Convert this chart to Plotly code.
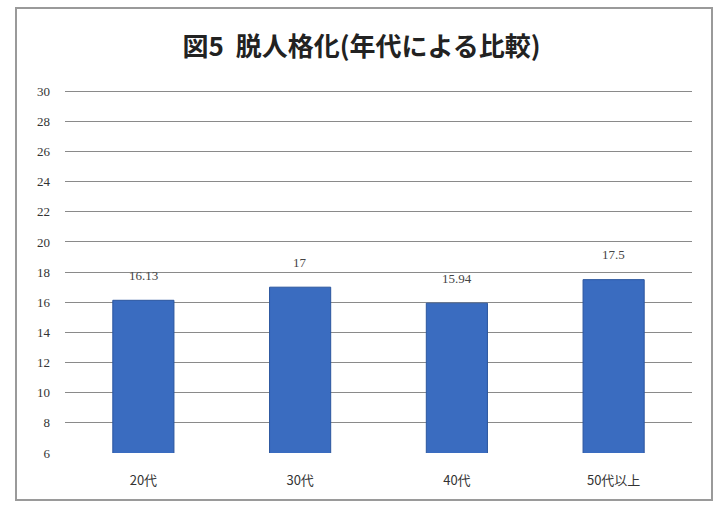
import plotly.graph_objects as go

categories = ["20代", "30代", "40代", "50代以上"]
values = [16.13, 17, 15.94, 17.5]
value_labels = ["16.13", "17", "15.94", "17.5"]
tick_vals = [6, 8, 10, 12, 14, 16, 18, 20, 22, 24, 26, 28, 30]

W, H = 723, 507
L, R, T, B = 65, 31, 90, 54
pw, ph = W - L - R, H - T - B

fig = go.Figure()
fig.add_trace(go.Bar(
    x=categories, y=values,
    marker=dict(color="#3A6CC0", line=dict(color="#2A559E", width=1)),
    width=0.39,
))

for c, v, t in zip(categories, values, value_labels):
    fig.add_annotation(x=c, y=v, text=t, showarrow=False, yshift=25,
                       font=dict(size=13, color="#444444", family="Liberation Serif"))

def px_x(p):
    return (p - L) / pw

def px_y(p):
    return (H - B - p) / ph

fig.update_layout(
    width=W, height=H,
    margin=dict(l=L, r=R, t=T, b=B),
    paper_bgcolor="white", plot_bgcolor="white",
    showlegend=False,
    title=dict(text="<b>図5  脱人格化(年代による比較)</b>", x=0.5, xanchor="center",
               y=1 - 47 / H, yanchor="middle",
               font=dict(size=26, color="#222222", family="Noto Sans CJK JP")),
    xaxis=dict(showline=False, ticks="", ticklabelstandoff=18,
               tickfont=dict(size=13, color="#333333", family="Noto Sans CJK JP")),
    yaxis=dict(range=[6, 30.08], tickvals=tick_vals, showgrid=True, gridcolor="#8a8a8a", gridwidth=1,
               zeroline=False, ticks="", ticklabelstandoff=14,
               tickfont=dict(size=13, color="#333333", family="Liberation Serif")),
    shapes=[
        dict(type="rect", xref="paper", yref="paper",
             x0=px_x(16), x1=px_x(712), y0=px_y(500), y1=px_y(8),
             line=dict(color="#9a9a9a", width=2), fillcolor="rgba(0,0,0,0)", layer="below"),
    ],
)

fig.write_html("out.html")
